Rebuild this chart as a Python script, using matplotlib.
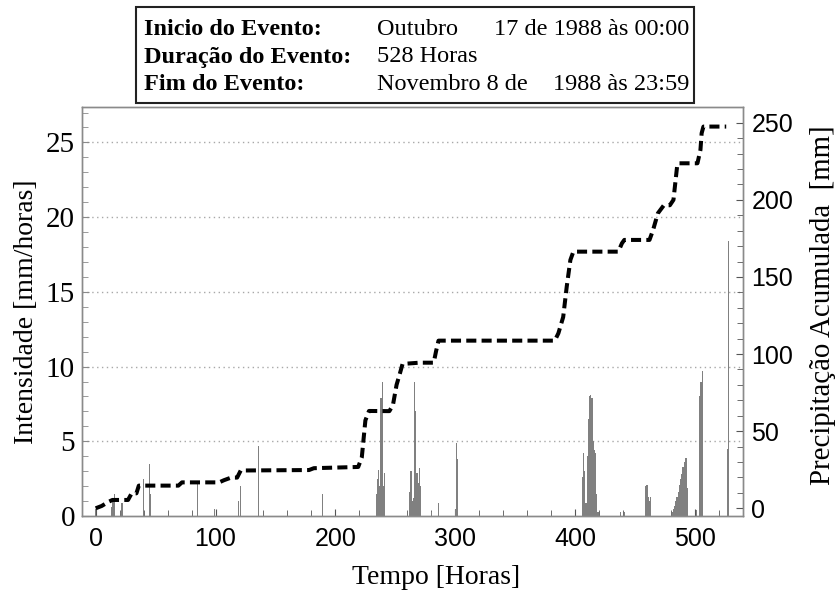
import numpy as np
import matplotlib
matplotlib.use('Agg')
import matplotlib.pyplot as plt
from matplotlib.patches import Rectangle
from matplotlib.ticker import MultipleLocator

#%% data
bar_hours = [0, 13, 14, 15, 16, 22, 40, 45, 46, 85, 99, 119, 121, 136, 189,
             234, 235, 236, 237, 238, 239, 240, 241,
             262, 263, 264, 265, 266, 267, 268, 269, 270, 271,
             280, 286, 300, 301, 302,
             406, 407, 408, 409, 410, 411, 412, 413, 414, 415, 416, 417, 418, 419,
             438, 441, 459, 460, 461, 462, 463,
             481, 482, 483, 484, 485, 486, 487, 488, 489, 490, 491, 492, 493, 494,
             501, 504, 505, 506, 527, 528]
intensity = [0.45, 0.6, 1.0, 1.2, 1.5, 0.9, 2.5, 3.5, 1.5, 2.2, 0.45, 1.0, 2.0, 4.7, 1.5,
             1.5, 2.5, 3.1, 2.0, 7.9, 9.0, 2.0, 2.9,
             1.6, 3.0, 1.0, 1.2, 9.0, 7.0, 2.9, 2.2, 3.2, 2.0,
             0.25, 0.85, 0.5, 4.9, 3.8,
             2.6, 4.2, 3.0, 0.9, 4.0, 6.5, 8.0, 8.1, 7.9, 5.0, 4.4, 4.2, 1.5, 0.3,
             0.25, 0.25, 2.0, 2.1, 1.3, 1.0, 1.3,
             0.3, 0.5, 0.7, 1.0, 1.3, 1.6, 2.1, 2.5, 2.8, 3.3, 3.6, 3.9, 3.9, 1.9,
             0.4, 8.0, 9.0, 9.7, 4.5, 18.4]

cum_hours = [0, 5, 11, 14, 27, 30, 34, 36, 69, 72, 103, 107, 113, 118, 121, 178, 182,
             219, 222, 225, 228, 245, 248, 251, 254, 256, 270, 282, 284, 286,
             383, 386, 390, 393, 396, 398.5, 436, 439, 441, 462, 465, 469, 474, 479,
             482, 483.5, 485, 486, 502, 504.5, 505.5, 507, 526]
cum_precip = [0, 1.5, 4.3, 5.4, 5.4, 9.7, 9.7, 14.7, 14.7, 16.8, 16.8, 18.2, 19.9, 19.9, 24.5, 24.8, 26.0,
              26.8, 33, 57, 63.1, 63, 67, 80, 88, 93.6, 94.4, 94.4, 102, 108.7,
              108.7, 113.5, 124, 144, 161, 166.4, 166.4, 171.8, 174, 174, 180.5, 191.3, 196.5, 196.5,
              200, 210.8, 221.5, 223.7, 223.7, 232.4, 243.2, 247.5, 247.5]

header_labels = ['Inicio do Evento:', 'Duração do Evento:', 'Fim do Evento:']

#%% figure
W, H = 837, 593
fig = plt.figure(figsize=(W / 100, H / 100), dpi=100)
fig.patch.set_facecolor('white')

def fx(px):
    return px / W

def fy(py):
    return 1 - py / H

L, R, T, B = 82, 743, 107.3, 516
ax = fig.add_axes([fx(L), fy(B), fx(R - L), (B - T) / H])
ax2 = ax.twinx()

ax.bar(bar_hours, intensity, width=1.0, color='#808080', linewidth=0, zorder=2)
ax.set_xlim(-11.4, 540)
ax.set_ylim(0, 27.35)
ax2.set_ylim(-5, 260)

line, = ax2.plot(cum_hours, cum_precip, color='black', lw=2.9, linestyle=(0, (2.5, 1.3)),
                 solid_capstyle='butt', dash_capstyle='butt')

for yy in [5, 10, 15, 20, 25]:
    ax.axhline(yy, color='#a8a8a8', lw=1.0, linestyle=(0, (1, 2.5)), zorder=1)

spine_col = '#8a8a8a'
for a in (ax, ax2):
    for s in a.spines.values():
        s.set_color(spine_col)
        s.set_linewidth(1.0)

ax.xaxis.set_major_locator(MultipleLocator(100))
ax.xaxis.set_minor_locator(MultipleLocator(20))
ax.yaxis.set_major_locator(MultipleLocator(5))
ax.yaxis.set_minor_locator(MultipleLocator(1))
ax2.yaxis.set_major_locator(MultipleLocator(50))
ax2.yaxis.set_minor_locator(MultipleLocator(10))
ax2.set_yticks([0, 50, 100, 150, 200, 250])

ax.tick_params(axis='x', which='both', direction='in', color='#555555', top=False,
               labelsize=18, pad=8)
ax.tick_params(axis='x', which='major', length=5)
ax.tick_params(axis='x', which='minor', length=4)
ax.tick_params(axis='y', which='both', direction='in', color=spine_col, right=False,
               labelsize=21, pad=5)
ax.tick_params(axis='y', which='major', length=5)
ax.tick_params(axis='y', which='minor', length=4)
ax2.tick_params(axis='y', which='both', direction='in', color='#555555', labelsize=18, pad=6)
ax2.tick_params(axis='y', which='major', length=5)
ax2.tick_params(axis='y', which='minor', length=4)

for t in ax.get_xticklabels():
    t.set_fontfamily('Liberation Sans')
for t in ax2.get_yticklabels():
    t.set_fontfamily('Liberation Sans')
for t in ax.get_yticklabels():
    t.set_fontfamily('Liberation Serif')

serif = 'Liberation Serif'
fig.text(fx(26.7), fy(311.5), 'Intensidade [mm/horas]', rotation=90, ha='center', va='center',
         fontsize=20, family=serif)
fig.text(fx(823), fy(305), 'Precipitação Acumulada  [mm]', rotation=90, ha='center', va='center',
         fontsize=20.8, family=serif)
fig.text(fx(436), fy(577), 'Tempo [Horas]', ha='center', va='center', fontsize=20, family=serif)

#%% header box
fig.add_artist(Rectangle((fx(136), fy(103.3)), fx(694 - 136), (103.3 - 7.3) / H,
                         transform=fig.transFigure, facecolor='white', edgecolor='#222222', lw=1.5))
hs = 17.5
base = [35, 62.5, 90]
for lab, yb in zip(header_labels, base):
    fig.text(fx(144), fy(yb), lab, ha='left', va='baseline', fontsize=hs,
             family=serif, fontweight='bold')
fig.text(fx(377), fy(base[0]), 'Outubro', ha='left', va='baseline', fontsize=hs, family=serif)
fig.text(fx(689), fy(base[0]), '17 de 1988 às 00:00', ha='right', va='baseline', fontsize=hs, family=serif)
fig.text(fx(377), fy(base[1]), '528 Horas', ha='left', va='baseline', fontsize=hs, family=serif)
fig.text(fx(377), fy(base[2]), 'Novembro 8 de', ha='left', va='baseline', fontsize=hs, family=serif)
fig.text(fx(689), fy(base[2]), '1988 às 23:59', ha='right', va='baseline', fontsize=hs, family=serif)

fig.savefig('out.png', dpi=100)
